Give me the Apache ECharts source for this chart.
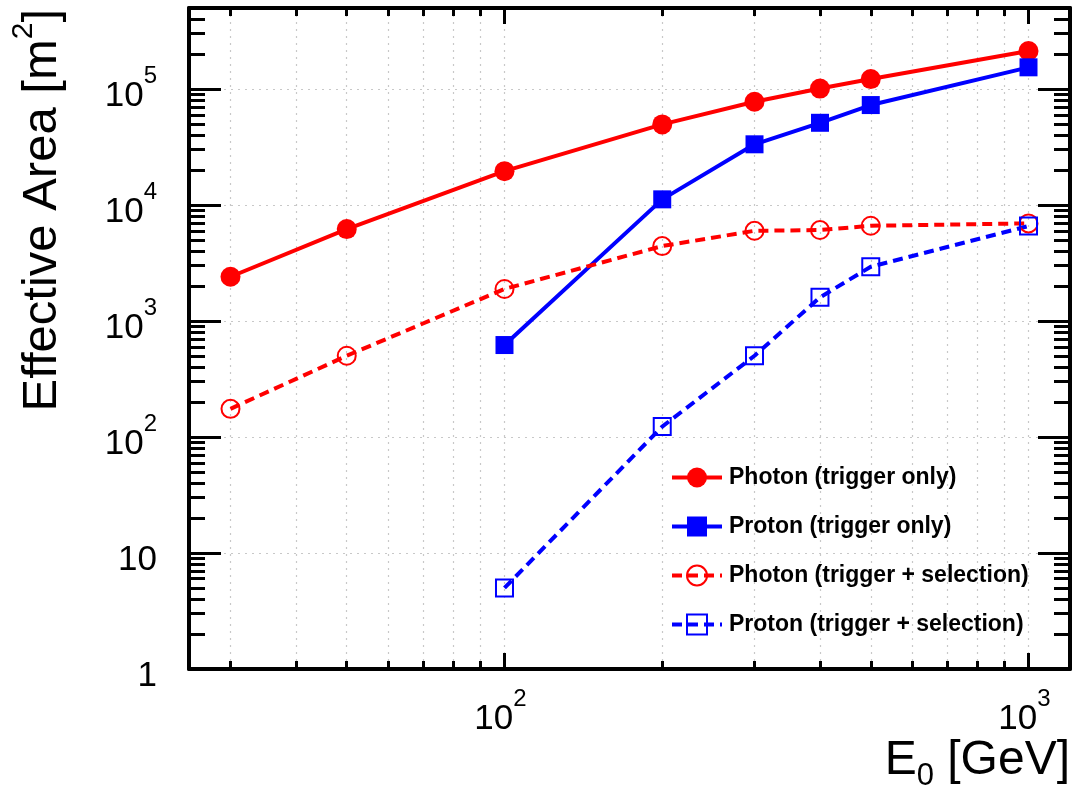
<!DOCTYPE html>
<html>
<head>
<meta charset="utf-8">
<script src="https://cdn.jsdelivr.net/npm/echarts@6/dist/echarts.min.js"></script>
<style>
  html, body { margin: 0; padding: 0; background: #ffffff; }
  #chart { width: 1074px; height: 788px; }
</style>
</head>
<body>
<div id="chart"></div>
<script>
// Primary energies [GeV]
const energies = [30, 50, 100, 200, 300, 400, 500, 1000];
const protonEnergies = [100, 200, 300, 400, 500, 1000];

// Effective area [m^2]
const photonTrigger   = [2410, 6210, 19600, 49600, 77800, 101000, 122000, 213000];
const protonTrigger   = [621, 11200, 33400, 51200, 72800, 154000];
const photonSelection = [175, 502, 1890, 4430, 6000, 6090, 6630, 6950];
const protonSelection = [5.0, 123, 502, 1600, 2940, 6590];

const seriesNames = [
  'Photon (trigger only)',
  'Proton (trigger only)',
  'Photon (trigger + selection)',
  'Proton (trigger + selection)'
];

// Axis ranges and tick positions
const xRange = [25, 1200];
const yRange = [1, 500000];
const xMajorTicks = [100, 1000];
const xMinorTicks = [30, 40, 50, 60, 70, 80, 90, 200, 300, 400, 500, 600, 700, 800, 900];
const yMajorTicks = [1, 10, 100, 1000, 10000, 100000];
const yMinorTicks = [
  2, 3, 4, 5, 6, 7, 8, 9,
  20, 30, 40, 50, 60, 70, 80, 90,
  200, 300, 400, 500, 600, 700, 800, 900,
  2000, 3000, 4000, 5000, 6000, 7000, 8000, 9000,
  20000, 30000, 40000, 50000, 60000, 70000, 80000, 90000,
  200000, 300000, 400000
];

const FONT = '"Liberation Sans", Arial, Helvetica, sans-serif';
const RED = '#ff0000';
const BLUE = '#0000ff';

// "1", "10", "10^n" with a raised exponent
function powerLabel(v) {
  const e = Math.round(Math.log10(v));
  if (e === 0) return '{b|1}';
  if (e === 1) return '{b|10}';
  return '{b|10}{s|' + e + '}';
}
const labelRich = {
  b: { fontFamily: FONT, fontSize: 35, lineHeight: 50, verticalAlign: 'bottom', color: '#000' },
  s: { fontFamily: FONT, fontSize: 24, lineHeight: 34, verticalAlign: 'top', color: '#000' }
};

const gridLine = { show: true, lineStyle: { color: '#c8c8c8', width: 1.2, type: [2, 5] } };
const frameLine = { show: true, onZero: false, lineStyle: { color: '#000', width: 4 } };

function axisDef(kind, position, ticks, tickLen, opts) {
  const range = kind === 'x' ? xRange : yRange;
  return Object.assign({
    type: 'log', logBase: 10, gridIndex: 0, position: position,
    min: range[0], max: range[1],
    axisLine: { show: false, onZero: false },
    axisTick: { show: true, inside: true, length: tickLen, customValues: ticks,
                lineStyle: { color: '#000', width: 3 } },
    axisLabel: { show: false },
    splitLine: { show: false },
    minorTick: { show: false }, minorSplitLine: { show: false }
  }, opts || {});
}

function pairs(xs, ys) { return xs.map((x, i) => [x, ys[i]]); }

const chart = echarts.init(document.getElementById('chart'), null, { renderer: 'canvas' });

chart.setOption({
  animation: false,
  backgroundColor: '#ffffff',
  grid: { left: 189, right: 4, top: 8, bottom: 119, containLabel: false, outerBoundsMode: 'none' },
  xAxis: [
    axisDef('x', 'bottom', xMajorTicks, 16, {
      axisLine: frameLine,
      axisLabel: {
        show: true, customValues: xMajorTicks, margin: 18, padding: [0, 8, 0, 0],
        formatter: powerLabel, rich: labelRich
      },
      splitLine: gridLine,
      name: '{a|E}{sub|0}{a| [GeV]}',
      nameLocation: 'end', nameGap: 0, nameMoveOverlap: false,
      nameTextStyle: {
        align: 'right', verticalAlign: 'top', padding: [68, 0, 0, 0],
        rich: {
          a: { fontFamily: FONT, fontSize: 48, lineHeight: 50, verticalAlign: 'top', color: '#000' },
          sub: { fontFamily: FONT, fontSize: 31, lineHeight: 31, verticalAlign: 'top',
                 padding: [24, 0, 0, 0], color: '#000' }
        }
      }
    }),
    axisDef('x', 'bottom', xMinorTicks, 8, { splitLine: gridLine }),
    axisDef('x', 'top', xMajorTicks, 16, { axisLine: frameLine }),
    axisDef('x', 'top', xMinorTicks, 8)
  ],
  yAxis: [
    axisDef('y', 'left', yMajorTicks, 32, {
      axisLine: frameLine,
      axisLabel: {
        show: true, customValues: yMajorTicks, margin: 32,
        formatter: powerLabel, rich: labelRich
      },
      splitLine: gridLine,
      name: '{a|Effective Area [m}{sup|2}{a|]}',
      nameLocation: 'end', nameRotate: 90, nameGap: -1, nameMoveOverlap: false,
      nameTextStyle: {
        align: 'right', verticalAlign: 'bottom', padding: [0, 0, 122, 0],
        rich: {
          a: { fontFamily: FONT, fontSize: 49, lineHeight: 58, verticalAlign: 'bottom', color: '#000' },
          sup: { fontFamily: FONT, fontSize: 30, lineHeight: 26, verticalAlign: 'top', color: '#000' }
        }
      }
    }),
    axisDef('y', 'left', yMinorTicks, 16),
    axisDef('y', 'right', yMajorTicks, 32, { axisLine: frameLine }),
    axisDef('y', 'right', yMinorTicks, 16)
  ],
  legend: {
    orient: 'vertical', left: 670, top: 466, padding: 0,
    itemWidth: 50, itemHeight: 25, itemGap: 26,
    selectedMode: false,
    lineStyle: { width: 4 },
    textStyle: { fontFamily: FONT, fontWeight: 'bold', fontSize: 23, color: '#000', padding: [0, 0, 0, 2] },
    data: seriesNames
  },
  series: [
    {
      name: seriesNames[0], type: 'line', xAxisIndex: 0, yAxisIndex: 0,
      data: pairs(energies, photonTrigger),
      symbol: 'circle', symbolSize: 20,
      lineStyle: { color: RED, width: 4, type: 'solid' },
      itemStyle: { color: RED },
      emphasis: { disabled: true }, z: 3
    },
    {
      name: seriesNames[1], type: 'line', xAxisIndex: 0, yAxisIndex: 0,
      data: pairs(protonEnergies, protonTrigger),
      symbol: 'rect', symbolSize: 18,
      lineStyle: { color: BLUE, width: 4, type: 'solid' },
      itemStyle: { color: BLUE },
      emphasis: { disabled: true }, z: 3
    },
    {
      name: seriesNames[2], type: 'line', xAxisIndex: 0, yAxisIndex: 0,
      data: pairs(energies, photonSelection),
      symbol: 'circle', symbolSize: 18,
      lineStyle: { color: RED, width: 4, type: [10, 6] },
      itemStyle: { color: 'rgba(0,0,0,0)', borderColor: RED, borderWidth: 2 },
      emphasis: { disabled: true }, z: 3
    },
    {
      name: seriesNames[3], type: 'line', xAxisIndex: 0, yAxisIndex: 0,
      data: pairs(protonEnergies, protonSelection),
      symbol: 'rect', symbolSize: 17,
      lineStyle: { color: BLUE, width: 4, type: [10, 6] },
      itemStyle: { color: 'rgba(0,0,0,0)', borderColor: BLUE, borderWidth: 2 },
      emphasis: { disabled: true }, z: 3
    }
  ]
});
</script>
</body>
</html>
